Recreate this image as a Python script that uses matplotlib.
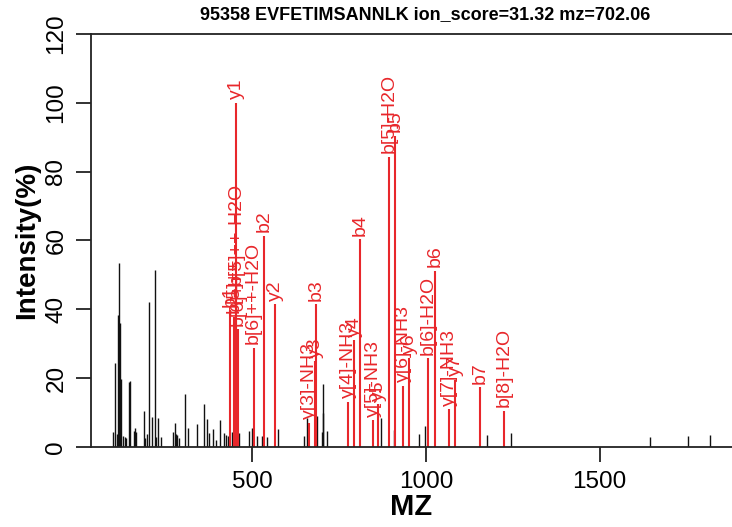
import matplotlib
matplotlib.use('Agg')
import matplotlib.pyplot as plt

# ---------------------------------------------------------------- data
title_text = '95358 EVFETIMSANNLK ion_score=31.32 mz=702.06'

# matched (annotated) peaks
ion_mz = [436.4, 448.8, 454.5, 458.6, 453.7, 504.5, 534.2, 565.9,
          663.7, 681.0, 683.0, 776.8, 794.0, 811.3, 847.9, 863.0,
          893.8, 911.0, 935.0, 951.4, 1007.0, 1026.0, 1066.5, 1083.7,
          1155.7, 1224.7]
ion_int = [39.8, 37.8, 46.0, 34.3, 100.0, 28.8, 61.4, 41.5,
           7.0, 25.0, 41.5, 13.2, 31.0, 60.4, 7.8, 12.5,
           84.4, 90.4, 17.8, 26.0, 25.8, 51.2, 11.0, 19.5,
           17.3, 10.6]
ion_lab = ['b1', 'b[5]++', 'b[5]++-H2O', 'b[6]++', 'y1', 'b[6]++-H2O', 'b2', 'y2',
           'y[3]-NH3', 'y3', 'b3', 'y[4]-NH3', 'y4', 'b4', 'y[5]-NH3', 'y5',
           'b[5]-H2O', 'b5', 'y[6]-NH3', 'y6', 'b[6]-H2O', 'b6', 'y[7]-NH3', 'y7',
           'b7', 'b[8]-H2O']

# unmatched peaks
peak_mz = [100.7, 104.7, 110.5, 114.2, 117.1, 120.0, 122.8, 129.5, 134.3, 138.1,
           145.0, 147.9, 159.4, 163.1, 166.0, 188.1, 191.9, 198.5, 202.5, 212.9,
           219.8, 223.5, 230.1, 238.8, 271.6, 277.3, 281.1, 284.8, 290.6, 307.8,
           314.7, 340.6, 361.6, 371.1, 377.4, 388.4, 396.1, 407.7, 419.2, 424.0,
           431.5, 443.0, 463.2, 491.1, 500.6, 513.2, 529.3, 542.0, 575.4, 649.3,
           658.8, 685.8, 700.2, 703.1, 704.8, 714.6, 870.0, 908.2, 979.3, 996.5,
           1176.6, 1244.0, 1644.5, 1753.8, 1817.0]
peak_int = [4.5, 24.3, 3.9, 38.3, 53.6, 35.9, 19.7, 3.2, 3.0, 2.7,
            18.8, 19.3, 4.7, 5.6, 4.5, 10.4, 2.7, 3.9, 42.2, 8.8,
            51.4, 3.0, 8.5, 3.0, 4.5, 6.9, 3.7, 3.4, 2.6, 15.4,
            5.6, 6.6, 12.5, 8.0, 4.2, 5.2, 2.0, 7.8, 4.0, 3.6,
            3.2, 4.5, 4.2, 4.7, 5.4, 3.3, 3.1, 2.9, 5.2, 3.1,
            8.5, 9.0, 4.5, 18.3, 10.0, 4.6, 8.3, 5.0, 3.7, 6.1,
            3.5, 4.0, 3.0, 3.2, 3.5]

x_ticks = [500, 1000, 1500]
y_ticks = [0, 20, 40, 60, 80, 100, 120]

# ---------------------------------------------------------------- plot
plt.rcParams['font.family'] = ['Liberation Sans', 'DejaVu Sans']
red = '#e8272b'

figure = plt.figure(figsize=(7.32, 5.27), dpi=100)
axes = figure.add_axes([0.1243, 0.1518, 0.8757, 0.7837])

axes.vlines(peak_mz, 0, peak_int, colors='#111111', linewidth=1.0)
axes.vlines(ion_mz, 0, ion_int, colors=red, linewidth=1.5)
for mz, inten, lab in zip(ion_mz, ion_int, ion_lab):
    axes.text(mz, inten + 1.0, lab, rotation=90, ha='center', va='bottom',
              color=red, fontsize=14)

axes.set_xlim(36.5, 1880.6)
axes.set_ylim(0, 120)
axes.set_xticks(x_ticks)
axes.set_yticks(y_ticks)
axes.set_yticklabels([str(v) for v in y_ticks], rotation=90, va='center')
axes.tick_params(axis='both', direction='out', length=11, width=1.3,
                 labelsize=17.5, color='#222222', pad=6)
for side in ['left', 'top', 'bottom']:
    axes.spines[side].set_linewidth(1.3)
    axes.spines[side].set_color('#222222')
axes.spines['right'].set_visible(False)

axes.set_xlabel('MZ', fontsize=21, fontweight='bold', labelpad=0)
axes.set_ylabel('Intensity(%)', fontsize=20, fontweight='bold', labelpad=4)
figure.text(0.5812, 0.9715, title_text, ha='center', va='center',
            fontsize=13, fontweight='bold')

figure.savefig('out.png', dpi=100)
